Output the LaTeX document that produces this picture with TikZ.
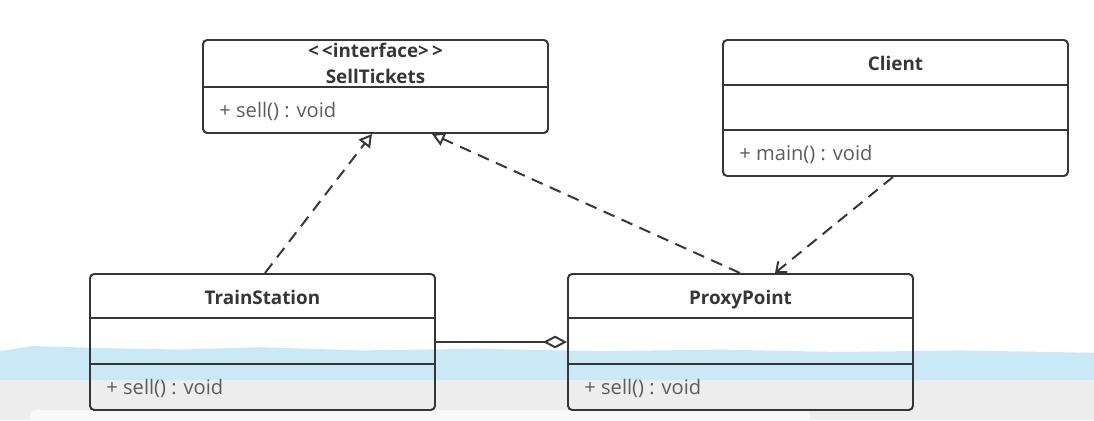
\documentclass[tikz,border=0pt]{standalone}
\usepackage{fontspec}
\setmainfont{Open Sans}
\usepackage{tikz}
\usetikzlibrary{arrows.meta,positioning}

\definecolor{umlgray}{HTML}{363636}
\definecolor{textgray}{HTML}{5C5C5C}
\definecolor{bandblue}{HTML}{C9E9F6}
\definecolor{bargray}{HTML}{EDEDED}

\begin{document}
\begin{tikzpicture}[line width=1.3pt, semithick,
  class/.style={draw=umlgray, line width=1.4pt, rounded corners=3pt, minimum width=8.625cm, inner sep=0pt},
  cname/.style={font=\bfseries\fontsize{13.4}{15}\selectfont, text=umlgray, inner sep=0pt, anchor=base},
  member/.style={font=\fontsize{14.3}{16}\selectfont, text=textgray, anchor=base west, inner sep=0pt},
  divider/.style={draw=umlgray, line width=1.4pt},
  realize/.style={draw=umlgray, line width=1.4pt, dash pattern=on 8.5pt off 5.5pt, -{Triangle[open, length=9pt, width=10pt]}},
  depend/.style={draw=umlgray, line width=1.4pt, dash pattern=on 8.5pt off 5.5pt, -{Straight Barb[length=6pt, width=10pt]}},
  aggreg/.style={draw=umlgray, line width=1.4pt, -{Diamond[open, length=17pt, width=9pt]}}]

\useasboundingbox (0,0) rectangle (27.35,10.5);

% player overlay at the bottom
\fill[bargray] (0,0) rectangle (27.35,1.0);
\fill[bandblue] (0,1.0) -- (0,1.72) -- (0.8,1.85) -- (2.5,1.8) -- (4.5,1.76) -- (6.5,1.82)
  -- (9,1.74) -- (12,1.78) -- (15,1.72) -- (18,1.76) -- (21,1.7) -- (24,1.74) -- (27.35,1.68)
  -- (27.35,1.0) -- cycle;
\fill[white!60!bargray, rounded corners=4pt] (0.75,-0.2) rectangle (20.25,0.25);

% classes
\node[class, minimum height=2.325cm] (st) at (9.3875,8.3375) {};
\node[class, minimum height=3.4cm]   (cl) at (22.3875,7.8)   {};
\node[class, minimum height=3.4cm]   (ts) at (6.5625,1.95)   {};
\node[class, minimum height=3.4cm]   (pp) at (18.5125,1.95)  {};

\node[cname] (st-stereo) at ([yshift=-0.45cm]st.north)  {<\,<interface>\,>};
\node[cname] (st-name)   at ([yshift=-1.1cm]st.north)   {SellTickets};
\node[member] (st-sell)  at ([xshift=0.425cm,yshift=-1.95cm]st.north west) {+ sell() : void};
\draw[divider] ([yshift=-1.2cm]st.north west) -- ([yshift=-1.2cm]st.north east);

\node[cname] (cl-name)   at ([yshift=-0.775cm]cl.north) {Client};
\node[member] (cl-main)  at ([xshift=0.425cm,yshift=-3.025cm]cl.north west) {+ main() : void};
\draw[divider] ([yshift=-1.15cm]cl.north west) -- ([yshift=-1.15cm]cl.north east);
\draw[divider] ([yshift=-2.275cm]cl.north west) -- ([yshift=-2.275cm]cl.north east);

\node[cname] (ts-name)   at ([yshift=-0.775cm]ts.north) {TrainStation};
\node[member] (ts-sell)  at ([xshift=0.425cm,yshift=-3.025cm]ts.north west) {+ sell() : void};
\draw[divider] ([yshift=-1.125cm]ts.north west) -- ([yshift=-1.125cm]ts.north east);
\draw[divider] ([yshift=-2.275cm]ts.north west) -- ([yshift=-2.275cm]ts.north east);

\node[cname] (pp-name)   at ([yshift=-0.775cm]pp.north) {ProxyPoint};
\node[member] (pp-sell)  at ([xshift=0.425cm,yshift=-3.025cm]pp.north west) {+ sell() : void};
\draw[divider] ([yshift=-1.125cm]pp.north west) -- ([yshift=-1.125cm]pp.north east);
\draw[divider] ([yshift=-2.275cm]pp.north west) -- ([yshift=-2.275cm]pp.north east);

% relations
\path
  ([xshift=0.0625cm]ts.north) edge[realize] ([xshift=-0.0875cm]st.south)
  ([xshift=-0.0125cm]pp.north) edge[realize] ([xshift=1.4125cm]st.south)
  ([xshift=-0.0625cm]cl.south) edge[depend] ([xshift=0.8625cm]pp.north)
  (ts.east) edge[aggreg] (pp.west);
\end{tikzpicture}
\end{document}
